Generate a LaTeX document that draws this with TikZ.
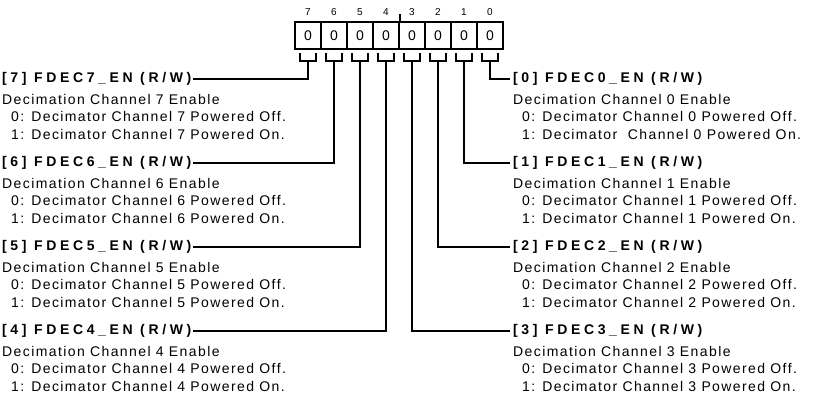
\documentclass[tikz,border=0pt]{standalone}
\usepackage{fontspec}
\setmainfont{Liberation Sans}[LetterSpace=10]
\newfontfamily\hdrfont{Liberation Sans}[LetterSpace=26]
\newfontfamily\plainfont{Liberation Sans}
\newcommand{\regblk}[4]{%
  \node[hdr] (h#1) at (#2,#3) {[#1] FDEC#1\_EN (R/W)};
  \node[lbl] (d#1a) at (#2,#3+20) {Decimation Channel #1 Enable};
  \node[lbl] (d#1b) at (#2+9,#3+37.5) {0: Decimator Channel #1 Powered Off.};
  \node[lbl] (d#1c) at (#2+9,#3+55) {1: Decimator#4Channel #1 Powered On.};
}
\begin{document}
\begin{tikzpicture}[x=1pt,y=-1pt,
  lbl/.style={anchor=west, inner sep=0pt, font=\fontsize{14}{16}\selectfont},
  hdr/.style={anchor=west, inner sep=0pt, font=\fontsize{14}{16}\hdrfont\bfseries},
  wire/.style={line width=2pt},
  regbox/.style={draw, line width=2.2pt, minimum width=26pt, minimum height=27pt,
    inner sep=0pt, font=\fontsize{14}{16}\plainfont},
  bitnum/.style={inner sep=0pt, font=\fontsize{10}{11}\plainfont}
]
\useasboundingbox (0,0) rectangle (831,406);
% register boxes
\foreach \i in {0,...,7} {
  \node[regbox] (b\i) at ({308+(7-\i)*26},35.5) {0};
  \node[bitnum] (n\i) at ({308+(7-\i)*26},12.5) {\i};
  \draw[wire] ([shift={(-8,3)}]b\i.south) -- ++(0,8) -- ++(16,0) -- ++(0,-8);
  \coordinate (k\i) at ([yshift=-11pt]b\i.south);
}
\coordinate (tick) at ([yshift=7pt]b4.north east);
\draw[wire] (b4.north east) -- (tick);
% field descriptions
\regblk{7}{2}{79}{ }
\regblk{6}{2}{163}{ }
\regblk{5}{2}{247}{ }
\regblk{4}{2}{331}{ }
\regblk{0}{513}{79}{\ \ }
\regblk{1}{513}{163}{ }
\regblk{2}{513}{247}{ }
\regblk{3}{513}{331}{ }
% connectors
\foreach \i in {7,6,5,4} {
  \draw[wire] (k\i) |- ([xshift=1pt]h\i.east);
}
\foreach \i in {0,1,2,3} {
  \draw[wire] (k\i) |- ([xshift=-3pt]h\i.west);
}
\end{tikzpicture}
\end{document}
